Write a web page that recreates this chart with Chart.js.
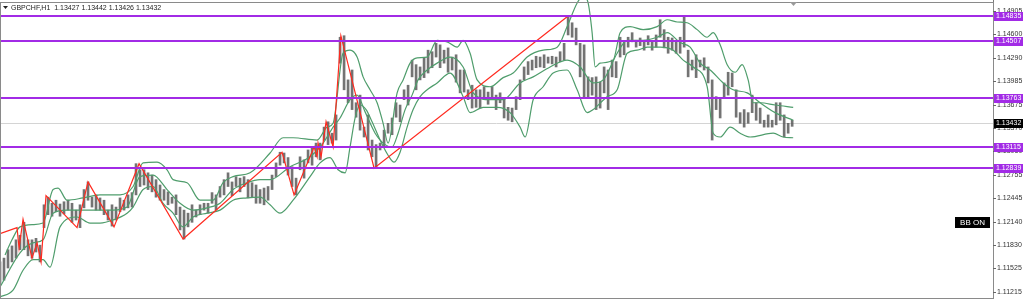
<!DOCTYPE html>
<html>
<head>
<meta charset="utf-8">
<script src="https://cdn.jsdelivr.net/npm/chart.js@4.4.1/dist/chart.umd.min.js"></script>
<style>
  html, body { margin: 0; padding: 0; background: #fff; overflow: hidden; }
</style>
</head>
<body>
<canvas id="priceChart" width="1024" height="299"></canvas>
<script>
// header / quote
const symbol = "GBPCHF,H1";
const lastQuote = ["1.13427", "1.13442", "1.13426", "1.13432"];

// right price scale labels
const priceTicks = [1.14905, 1.14600, 1.14290, 1.13985, 1.13675, 1.13370, 1.13060,
  1.12755, 1.12445, 1.12140, 1.11830, 1.11525, 1.11215];

// horizontal levels drawn on the chart
const levels = [1.14835, 1.14507, 1.13763, 1.13115, 1.12839];
const lastPrice = 1.13432;

// bar ranges, sampled at whole index positions
const barHighs = [1.1161, 1.1177, 1.1190, 1.1213, 1.1190, 1.1183, 1.1246, 1.1242, 1.1240, 1.1238,
  1.1236, 1.1266, 1.1249, 1.1242, 1.1236, 1.1245, 1.1249, 1.1290, 1.1282, 1.1275,
  1.1262, 1.1253, 1.1249, 1.1229, 1.1236, 1.1236, 1.1238, 1.1249, 1.1269, 1.1266,
  1.1271, 1.1269, 1.1262, 1.1258, 1.1275, 1.1305, 1.1298, 1.1271, 1.1295, 1.1311,
  1.1317, 1.1345, 1.1354, 1.1458, 1.1413, 1.1380, 1.1354, 1.1315, 1.1334, 1.1350,
  1.1367, 1.1393, 1.1420, 1.1429, 1.1437, 1.1446, 1.1442, 1.1433, 1.1413, 1.1393,
  1.1387, 1.1384, 1.1380, 1.1374, 1.1363, 1.1400, 1.1424, 1.1431, 1.1433, 1.1431,
  1.1437, 1.1483, 1.1468, 1.1446, 1.1403, 1.1397, 1.1413, 1.1424, 1.1450, 1.1462,
  1.1455, 1.1458, 1.1459, 1.1466, 1.1455, 1.1456, 1.1439, 1.1433, 1.1429, 1.1400,
  1.1376, 1.1410, 1.1387, 1.1361, 1.1380, 1.1363, 1.1354, 1.1370, 1.1354, 1.1347];
const barLows = [1.1131, 1.1153, 1.1166, 1.1177, 1.1166, 1.1161, 1.1223, 1.1227, 1.1224, 1.1213,
  1.1206, 1.1242, 1.1229, 1.1223, 1.1208, 1.1227, 1.1232, 1.1249, 1.1262, 1.1253,
  1.1242, 1.1236, 1.1223, 1.1191, 1.1213, 1.1223, 1.1225, 1.1229, 1.1249, 1.1248,
  1.1253, 1.1245, 1.1238, 1.1236, 1.1256, 1.1288, 1.1275, 1.1249, 1.1271, 1.1288,
  1.1295, 1.1315, 1.1321, 1.1387, 1.1361, 1.1334, 1.1308, 1.1284, 1.1311, 1.1328,
  1.1345, 1.1367, 1.1387, 1.1403, 1.1416, 1.1416, 1.1410, 1.1397, 1.1384, 1.1363,
  1.1363, 1.1368, 1.1361, 1.1350, 1.1345, 1.1374, 1.1407, 1.1416, 1.1416, 1.1421,
  1.1424, 1.1459, 1.1446, 1.1378, 1.1380, 1.1363, 1.1361, 1.1403, 1.1433, 1.1450,
  1.1445, 1.1446, 1.1443, 1.1442, 1.1439, 1.1435, 1.1404, 1.1403, 1.1413, 1.1321,
  1.1350, 1.1380, 1.1351, 1.1338, 1.1357, 1.1343, 1.1338, 1.1341, 1.1325, 1.1339];

// bar ranges, sampled half way between the positions above
const midHighs = [1.1166, 1.1182, 1.1196, 1.1190, 1.1192, 1.1236, 1.1238, 1.1237, 1.1242, 1.1229,
  1.1256, 1.1246, 1.1245, 1.1229, 1.1233, 1.1242, 1.1252, 1.1282, 1.1278, 1.1269,
  1.1256, 1.1246, 1.1233, 1.1225, 1.1229, 1.1238, 1.1252, 1.1260, 1.1278, 1.1273,
  1.1273, 1.1265, 1.1256, 1.1260, 1.1291, 1.1304, 1.1286, 1.1299, 1.1308, 1.1317,
  1.1338, 1.1330, 1.1456, 1.1400, 1.1370, 1.1338, 1.1321, 1.1317, 1.1343, 1.1370,
  1.1387, 1.1426, 1.1417, 1.1439, 1.1448, 1.1439, 1.1430, 1.1413, 1.1387, 1.1387,
  1.1391, 1.1391, 1.1383, 1.1364, 1.1378, 1.1417, 1.1426, 1.1430, 1.1430, 1.1430,
  1.1448, 1.1475, 1.1448, 1.1404, 1.1404, 1.1417, 1.1426, 1.1456, 1.1456, 1.1452,
  1.1452, 1.1452, 1.1479, 1.1456, 1.1452, 1.1483, 1.1426, 1.1426, 1.1417, 1.1378,
  1.1396, 1.1409, 1.1357, 1.1357, 1.1370, 1.1347, 1.1347, 1.1370, 1.1343];
const midLows = [1.1137, 1.1161, 1.1177, 1.1169, 1.1174, 1.1206, 1.1221, 1.1221, 1.1229, 1.1216,
  1.1232, 1.1233, 1.1229, 1.1216, 1.1216, 1.1229, 1.1233, 1.1260, 1.1256, 1.1246,
  1.1242, 1.1238, 1.1203, 1.1207, 1.1220, 1.1229, 1.1238, 1.1246, 1.1260, 1.1260,
  1.1260, 1.1246, 1.1238, 1.1242, 1.1273, 1.1291, 1.1260, 1.1282, 1.1291, 1.1299,
  1.1321, 1.1317, 1.1422, 1.1370, 1.1351, 1.1325, 1.1299, 1.1308, 1.1330, 1.1351,
  1.1374, 1.1404, 1.1400, 1.1409, 1.1430, 1.1422, 1.1413, 1.1383, 1.1374, 1.1364,
  1.1374, 1.1374, 1.1370, 1.1347, 1.1361, 1.1400, 1.1413, 1.1417, 1.1422, 1.1417,
  1.1426, 1.1456, 1.1404, 1.1378, 1.1361, 1.1383, 1.1404, 1.1430, 1.1443, 1.1443,
  1.1439, 1.1439, 1.1456, 1.1435, 1.1435, 1.1443, 1.1413, 1.1417, 1.1396, 1.1361,
  1.1378, 1.1391, 1.1343, 1.1343, 1.1347, 1.1338, 1.1338, 1.1347, 1.1330];

// Bollinger bands [bar index, price]
const bbUpper = [[0.63, 1.1170], [1.5, 1.1190], [2.5, 1.1207], [4.13, 1.1210], [5.38, 1.1212],
  [6.63, 1.1256], [7.25, 1.1258], [8.38, 1.1242], [10.38, 1.1245], [12.5, 1.1249], [15, 1.1249],
  [16.63, 1.1260], [17.88, 1.1291], [19.63, 1.1292], [20.88, 1.1282], [21.63, 1.1269],
  [23.38, 1.1265], [25, 1.1242], [26.63, 1.1242], [27.88, 1.1265], [29.13, 1.1273],
  [31.25, 1.1278], [33.75, 1.1304], [35.38, 1.1324], [36.63, 1.1324], [39.63, 1.1321],
  [40.88, 1.1338], [41.63, 1.1343], [42.88, 1.1435], [43.75, 1.1439], [44.63, 1.1430],
  [45.38, 1.1404], [46.25, 1.1387], [47.13, 1.1370], [47.88, 1.1343], [48.5, 1.1317],
  [49.63, 1.1383], [50.38, 1.1400], [51.25, 1.1422], [52.13, 1.1429], [53.38, 1.1430],
  [54.63, 1.1452], [55.88, 1.1450], [57.13, 1.1443], [57.88, 1.1452], [58.75, 1.1435],
  [59.63, 1.1400], [61.25, 1.1391], [62.88, 1.1403], [64.13, 1.1409], [65.88, 1.1430],
  [67.88, 1.1439], [69.63, 1.1443], [70.88, 1.1470], [72.13, 1.1501], [72.88, 1.1510],
  [73.5, 1.1501], [74, 1.1462], [74.38, 1.1417], [75, 1.1422], [76.63, 1.1426],
  [77.5, 1.1462], [78.75, 1.1470], [80.38, 1.1466], [82.13, 1.1470], [83.38, 1.1479],
  [84.63, 1.1476], [85.88, 1.1475], [87.13, 1.1466], [88.38, 1.1456], [89.13, 1.1462],
  [90, 1.1446], [90.88, 1.1420], [91.88, 1.1410], [92.75, 1.1420], [93.5, 1.1400],
  [94.13, 1.1370], [95, 1.1370], [96.88, 1.1367], [99.13, 1.1364]];
const bbMiddle = [[0, 1.1128], [2.5, 1.1173], [4.13, 1.1186], [5.38, 1.1190], [6.63, 1.1225],
  [8.38, 1.1229], [10.38, 1.1229], [12.5, 1.1229], [14.13, 1.1229], [15.88, 1.1233],
  [17.5, 1.1273], [19.13, 1.1275], [20.88, 1.1256], [22.5, 1.1238], [24.13, 1.1229],
  [25.88, 1.1232], [27.5, 1.1238], [29.13, 1.1256], [30.88, 1.1265], [32.5, 1.1269],
  [33.75, 1.1269], [36.25, 1.1286], [38.75, 1.1299], [40.25, 1.1315], [41.63, 1.1338],
  [42.5, 1.1350], [43.75, 1.1374], [44.63, 1.1380], [45.63, 1.1358], [46.88, 1.1330],
  [48.13, 1.1315], [49, 1.1312], [49.75, 1.1330], [50.63, 1.1361], [51.5, 1.1380],
  [52.25, 1.1400], [53.38, 1.1413], [54.63, 1.1422], [56.25, 1.1430], [57.88, 1.1417],
  [59.13, 1.1383], [61.25, 1.1374], [62.88, 1.1374], [65, 1.1396], [66.63, 1.1404],
  [68.75, 1.1417], [70.88, 1.1426], [72.5, 1.1417], [74.13, 1.1396], [75.38, 1.1400],
  [77.13, 1.1435], [78.38, 1.1452], [80.38, 1.1452], [82.13, 1.1456], [83.38, 1.1462],
  [85, 1.1449], [86.25, 1.1443], [87.5, 1.1422], [88.75, 1.1413], [90.38, 1.1396],
  [91.63, 1.1387], [93.38, 1.1383], [95, 1.1370], [96.88, 1.1357], [99.13, 1.1347]];
const bbLower = [[0, 1.1115], [1.63, 1.1124], [2.88, 1.1150], [4.13, 1.1164], [5.38, 1.1164],
  [6.25, 1.1154], [7.5, 1.1207], [9.63, 1.1220], [11.25, 1.1212], [12.5, 1.1212],
  [14.13, 1.1216], [15.88, 1.1225], [16.63, 1.1233], [17.88, 1.1256], [19.13, 1.1260],
  [20.38, 1.1238], [21.63, 1.1225], [22.88, 1.1207], [24.13, 1.1220], [25.88, 1.1225],
  [27.5, 1.1229], [29.13, 1.1242], [30.88, 1.1245], [32.5, 1.1246], [33.75, 1.1236],
  [35, 1.1225], [36.63, 1.1242], [38.75, 1.1273], [40, 1.1291], [41.25, 1.1298],
  [42.25, 1.1282], [43.13, 1.1278], [43.75, 1.1312], [44.38, 1.1350], [45, 1.1367],
  [45.75, 1.1361], [46.5, 1.1345], [47.5, 1.1321], [48.5, 1.1301], [49.25, 1.1292],
  [50, 1.1305], [50.88, 1.1338], [51.63, 1.1361], [52.5, 1.1378], [53.38, 1.1387],
  [54.63, 1.1396], [56.25, 1.1409], [57.88, 1.1378], [58.75, 1.1357], [60.38, 1.1364],
  [62.13, 1.1364], [63.75, 1.1357], [65, 1.1338], [65.63, 1.1325], [66.63, 1.1374],
  [67.88, 1.1391], [69.13, 1.1409], [70.88, 1.1413], [72.13, 1.1387], [73.38, 1.1357],
  [74.13, 1.1361], [75.88, 1.1378], [77.13, 1.1387], [78.38, 1.1435], [79.63, 1.1439],
  [80.88, 1.1443], [82.5, 1.1443], [84.13, 1.1439], [85.38, 1.1426], [86.63, 1.1417],
  [88.38, 1.1391], [89.13, 1.1330], [90, 1.1325], [91.25, 1.1338], [92.5, 1.1330],
  [93.75, 1.1325], [96.63, 1.1330], [97.88, 1.1325], [99.13, 1.1324]];

// zigzag swing points [bar index, price]
const zigzag = [[0, 1.1198], [2.13, 1.1206], [2.38, 1.1179], [2.88, 1.1217], [4, 1.1166],
  [4.63, 1.1186], [5.13, 1.1161], [5.75, 1.1248], [9.63, 1.1206], [11, 1.1266],
  [14.25, 1.1207], [17.38, 1.1290], [22.88, 1.1191], [35.25, 1.1305], [36.75, 1.1249],
  [39.25, 1.1312], [39.63, 1.1299], [39.75, 1.1317], [40.13, 1.1299], [40.75, 1.1345],
  [41.63, 1.1312], [42.6, 1.1458], [46.75, 1.1284], [70.88, 1.1483]];

const toXY = pts => pts.map(p => ({ x: p[0], y: p[1] }));

const barData = barHighs.map((h, i) => ({ x: i, y: [barLows[i], h] }))
  .concat(midHighs.map((h, i) => ({ x: i + 0.5, y: [midLows[i], h] })))
  .sort((a, b) => a.x - b.x);

const bbColor = "#4f9d6c";
const purple = "#a22be6";

const overlay = {
  id: "overlay",
  beforeDatasetsDraw(chart) {
    const { ctx, chartArea: a, scales: { y } } = chart;
    const py = Math.round(y.getPixelForValue(lastPrice)) + 0.5;
    ctx.save();
    ctx.strokeStyle = "#d4d4d4";
    ctx.lineWidth = 1;
    ctx.beginPath();
    ctx.moveTo(a.left, py);
    ctx.lineTo(a.right, py);
    ctx.stroke();
    ctx.restore();
  },
  afterDatasetsDraw(chart) {
    const { ctx, chartArea: a, scales: { y } } = chart;
    ctx.save();

    // levels
    ctx.strokeStyle = purple;
    ctx.lineWidth = 2;
    levels.forEach(v => {
      const py = Math.round(y.getPixelForValue(v));
      ctx.beginPath();
      ctx.moveTo(a.left, py);
      ctx.lineTo(a.right, py);
      ctx.stroke();
    });

    // frame
    ctx.strokeStyle = "#8a8a8a";
    ctx.lineWidth = 1;
    ctx.strokeRect(a.left + 0.5, a.top + 2.5, a.right - a.left, a.bottom - a.top - 3);

    // price scale labels
    ctx.font = "7px 'Liberation Sans', sans-serif";
    ctx.fillStyle = "#333";
    ctx.textBaseline = "middle";
    ctx.textAlign = "left";
    priceTicks.forEach(v => {
      const py = Math.round(y.getPixelForValue(v)) + 0.5;
      ctx.strokeStyle = "#666";
      ctx.beginPath();
      ctx.moveTo(a.right, py);
      ctx.lineTo(a.right + 3, py);
      ctx.stroke();
      ctx.fillText(v.toFixed(5), a.right + 4, py);
    });

    // level tags
    const tag = (v, bg) => {
      const py = Math.round(y.getPixelForValue(v));
      ctx.fillStyle = bg;
      ctx.fillRect(a.right + 1, py - 4, 29, 9);
      ctx.fillStyle = "#fff";
      ctx.fillText(v.toFixed(5), a.right + 3, py + 0.5);
    };
    levels.forEach(v => tag(v, purple));
    tag(lastPrice, "#000");

    // header
    ctx.fillStyle = "#222";
    ctx.beginPath();
    ctx.moveTo(3, 6);
    ctx.lineTo(8, 6);
    ctx.lineTo(5.5, 9);
    ctx.closePath();
    ctx.fill();
    ctx.font = "7px 'Liberation Sans', sans-serif";
    ctx.fillText(symbol + "  " + lastQuote.join(" "), 11, 8);

    // shift marker
    ctx.fillStyle = "#9a9a9a";
    ctx.beginPath();
    ctx.moveTo(790, 2);
    ctx.lineTo(797, 2);
    ctx.lineTo(793.5, 6);
    ctx.closePath();
    ctx.fill();

    // BB ON badge
    ctx.fillStyle = "#000";
    ctx.fillRect(955, 217, 35, 11);
    ctx.fillStyle = "#fff";
    ctx.font = "8px 'Liberation Sans', sans-serif";
    ctx.textAlign = "center";
    ctx.fillText("BB ON", 972.5, 222.5);

    ctx.restore();
  }
};

new Chart(document.getElementById("priceChart").getContext("2d"), {
  type: "bar",
  data: {
    datasets: [
      {
        type: "line",
        label: "zigzag",
        data: toXY(zigzag),
        borderColor: "#ff2a1f",
        borderWidth: 1.2,
        pointRadius: 0,
        tension: 0
      },
      {
        type: "line",
        label: "upper",
        data: toXY(bbUpper),
        borderColor: bbColor,
        borderWidth: 1.2,
        pointRadius: 0,
        cubicInterpolationMode: "monotone"
      },
      {
        type: "line",
        label: "middle",
        data: toXY(bbMiddle),
        borderColor: bbColor,
        borderWidth: 1.2,
        pointRadius: 0,
        cubicInterpolationMode: "monotone"
      },
      {
        type: "line",
        label: "lower",
        data: toXY(bbLower),
        borderColor: bbColor,
        borderWidth: 1.2,
        pointRadius: 0,
        cubicInterpolationMode: "monotone"
      },
      {
        label: "bars",
        data: barData,
        backgroundColor: "rgba(80,80,80,0.8)",
        barThickness: 2,
        grouped: false
      }
    ]
  },
  options: {
    responsive: false,
    animation: false,
    devicePixelRatio: 1,
    layout: { padding: 0 },
    plugins: {
      legend: { display: false },
      tooltip: { enabled: false }
    },
    scales: {
      x: {
        type: "linear",
        display: false,
        offset: false,
        bounds: "ticks",
        min: 0,
        max: 124.1
      },
      y: {
        position: "right",
        min: 1.11123,
        max: 1.15049,
        grid: { display: false },
        border: { display: true, color: "#7a7a7a" },
        ticks: { display: false },
        afterFit: scale => { scale.width = 31; }
      }
    }
  },
  plugins: [overlay]
});
</script>
</body>
</html>
